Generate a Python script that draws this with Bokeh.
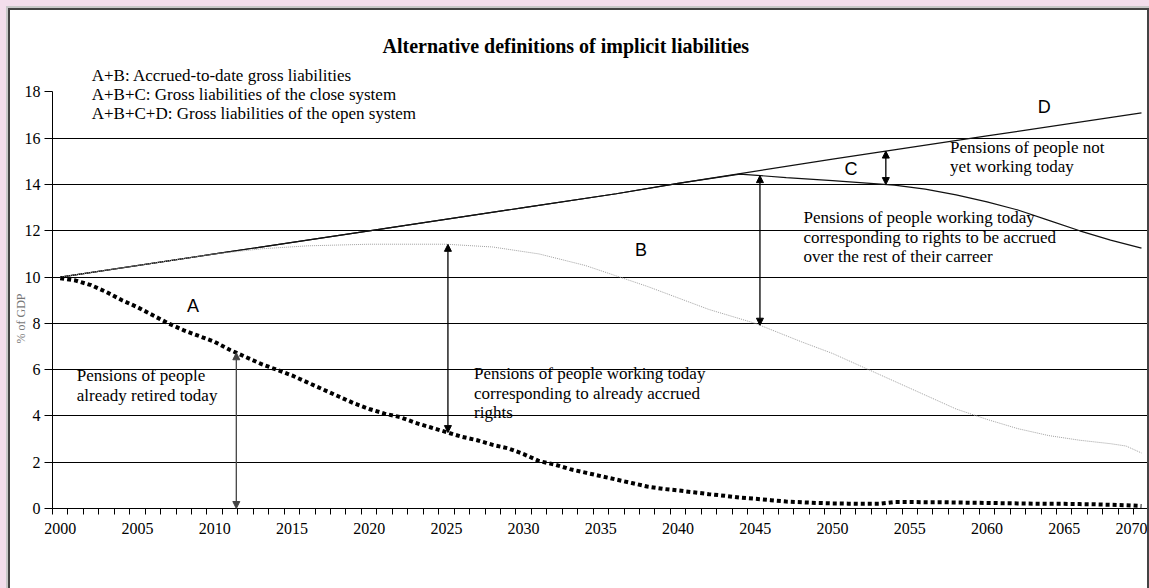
import numpy as np
from bokeh.plotting import figure
from bokeh.models import (Range1d, FixedTicker, Label, Arrow, NormalHead, Title)
from bokeh.embed import file_html
from bokeh.resources import INLINE

# ---------------- data ----------------
years_a = list(range(2000, 2071))
series_a = [9.95, 9.85, 9.65, 9.35, 9.0, 8.7, 8.35, 8.0, 7.7, 7.45,
            7.2, 6.85, 6.55, 6.25, 6.0, 5.75, 5.45, 5.15, 4.85, 4.55,
            4.3, 4.1, 3.95, 3.7, 3.5, 3.3, 3.1, 2.95, 2.75, 2.6,
            2.35, 2.05, 1.9, 1.7, 1.55, 1.4, 1.25, 1.1, 0.95, 0.85,
            0.78, 0.7, 0.62, 0.55, 0.47, 0.42, 0.36, 0.3, 0.27, 0.24,
            0.22, 0.21, 0.2, 0.2, 0.28, 0.28, 0.27, 0.27, 0.26, 0.25,
            0.24, 0.23, 0.22, 0.21, 0.2, 0.2, 0.19, 0.18, 0.16, 0.14, 0.11]

years_b = [2000, 2005, 2010, 2013, 2016, 2020, 2025, 2028, 2031, 2034, 2036,
           2038, 2040, 2042, 2045, 2048, 2050, 2052, 2054, 2056, 2058, 2060,
           2062, 2064, 2066, 2068, 2069, 2070]
series_ab = [10.0, 10.5, 11.0, 11.22, 11.35, 11.42, 11.42, 11.3, 11.0, 10.5, 10.05,
             9.6, 9.1, 8.6, 8.0, 7.2, 6.7, 6.1, 5.5, 4.9, 4.3, 3.85,
             3.45, 3.15, 2.95, 2.8, 2.7, 2.4]

years_c = [2000, 2010, 2020, 2030, 2036, 2040, 2044, 2047, 2050, 2054, 2056,
           2058, 2060, 2062, 2064, 2066, 2068, 2070]
series_abc = [10.0, 11.0, 12.0, 13.0, 13.6, 14.05, 14.45, 14.3, 14.17, 13.97, 13.8,
              13.55, 13.25, 12.9, 12.45, 12.0, 11.6, 11.25]

years_d = [2000, 2010, 2020, 2030, 2036, 2040, 2050, 2060, 2070]
series_abcd = [10.0, 11.0, 12.0, 13.0, 13.6, 14.05, 15.1, 16.1, 17.1]

x_tick_labels = list(range(2000, 2071, 5))
y_ticks = list(range(0, 19, 2))

arrow_years = [2011.4, 2025.1, 2045.3, 2053.45]

title_text = "Alternative definitions of implicit liabilities"
header_lines = ["A+B: Accrued-to-date gross liabilities",
                "A+B+C: Gross liabilities of the close system",
                "A+B+C+D: Gross liabilities of the open system"]
y_title = "% of GDP"

SERIF = "Liberation Serif"
SANS = "Liberation Sans"
TXT = "17px"

# ---------------- figure ----------------
p = figure(width=1137, height=578, output_backend="svg", toolbar_location=None,
           title=None, min_border_left=42, min_border_right=0,
           min_border_top=0, min_border_bottom=80,
           x_range=Range1d(1999.5, 2070.39), y_range=Range1d(0, 21.52))
p.styles = {"margin-left": "10px", "margin-top": "10px",
            "box-shadow": "0 0 0 2px #444444, 0 0 0 4px #c8c8c8, 0 0 0 16px #f3deec"}
p.background_fill_color = "white"
p.border_fill_color = "white"
p.outline_line_color = None

# x axis
p.xaxis.ticker = FixedTicker(ticks=x_tick_labels,
                             minor_ticks=[1999.5 + i for i in range(72)])
p.xaxis.major_tick_out = 0
p.xaxis.major_tick_in = 0
p.xaxis.minor_tick_out = 6
p.xaxis.minor_tick_in = 0
p.xaxis.minor_tick_line_color = "black"
p.xaxis.axis_line_color = "black"
p.xaxis.major_label_text_font = SERIF
p.xaxis.major_label_text_font_size = "16px"
p.xaxis.major_label_text_color = "black"
p.xaxis.major_label_standoff = 8

# y axis
p.yaxis.bounds = (0, 18)
p.yaxis.ticker = FixedTicker(ticks=y_ticks)
p.yaxis.major_tick_out = 8
p.yaxis.major_tick_in = 0
p.yaxis.minor_tick_line_color = None
p.yaxis.axis_line_color = "black"
p.yaxis.major_tick_line_color = "black"
p.yaxis.major_label_text_font = SERIF
p.yaxis.major_label_text_font_size = "16px"
p.yaxis.major_label_text_color = "black"
p.yaxis.major_label_standoff = 4

# y title, placed on the left side
p.add_layout(Title(text=y_title, align="left", offset=165, standoff=-12,
                   text_font=SERIF, text_font_size="12px",
                   text_font_style="normal", text_color="#777777"), "left")

p.xgrid.grid_line_color = None
p.ygrid.ticker = FixedTicker(ticks=[2, 4, 6, 8, 10, 12, 14, 16])
p.ygrid.grid_line_color = "black"
p.ygrid.grid_line_alpha = 1.0
p.ygrid.grid_line_width = 1

# series
p.line(years_d, series_abcd, line_color="#111111", line_width=1.2)
p.line(years_c, series_abc, line_color="#111111", line_width=1.2)
p.line(years_b, series_ab, line_color="#a0a0a0", line_width=1, line_dash="1 1")
p.line(years_a, series_a, line_color="black", line_width=4, line_dash="4 3")

# arrows between the series
bottoms = [0.0,
           float(np.interp(arrow_years[1], years_a, series_a)),
           float(np.interp(arrow_years[2], years_b, series_ab)),
           float(np.interp(arrow_years[3], years_c, series_abc))]
tops = [float(np.interp(arrow_years[0], years_a, series_a)),
        float(np.interp(arrow_years[1], years_b, series_ab)),
        float(np.interp(arrow_years[2], years_c, series_abc)),
        float(np.interp(arrow_years[3], years_d, series_abcd))]
arrow_colors = ["#444444", "black", "black", "black"]
for xa, y0, y1, col in zip(arrow_years, bottoms, tops, arrow_colors):
    p.add_layout(Arrow(x_start=xa, y_start=y0, x_end=xa, y_end=y1,
                       line_color=col, line_width=1.3,
                       start=NormalHead(size=7, fill_color=col, line_color=col),
                       end=NormalHead(size=7, fill_color=col, line_color=col)))

# title and header lines
p.add_layout(Label(x=2032.73, y=20.0, text=title_text, text_font=SERIF,
                   text_font_size="20px", text_font_style="bold",
                   text_align="center", text_baseline="middle", text_color="black"))
for txt, yy in zip(header_lines, [18.70, 17.88, 17.06]):
    p.add_layout(Label(x=2002.04, y=yy, text=txt, text_font=SERIF,
                       text_font_size=TXT, text_align="left",
                       text_baseline="middle", text_color="black"))

# region letters
for letter, lx, ly in [("A", 2008.6, 8.75), ("B", 2037.6, 11.17),
                       ("C", 2051.2, 14.66), ("D", 2063.7, 17.33)]:
    p.add_layout(Label(x=lx, y=ly, text=letter, text_font=SANS,
                       text_font_size="18px", text_align="center",
                       text_baseline="middle", text_color="black"))

# explanatory texts
blocks = [
    (2001.07, [5.73, 4.89], ["Pensions of people", "already retired today"]),
    (2026.79, [5.83, 4.97, 4.13], ["Pensions of people working today",
                                   "corresponding to already accrued",
                                   "rights"]),
    (2048.12, [12.57, 11.73, 10.90], ["Pensions of people working today",
                                      "corresponding to rights to be accrued",
                                      "over the rest of their carreer"]),
    (2057.61, [15.58, 14.76], ["Pensions of people not", "yet working today"]),
]
for bx, ys, lines in blocks:
    for yy, txt in zip(ys, lines):
        p.add_layout(Label(x=bx, y=yy, text=txt, text_font=SERIF,
                           text_font_size=TXT, text_align="left",
                           text_baseline="middle", text_color="black"))

open("out.html", "w").write(file_html(p, INLINE))
